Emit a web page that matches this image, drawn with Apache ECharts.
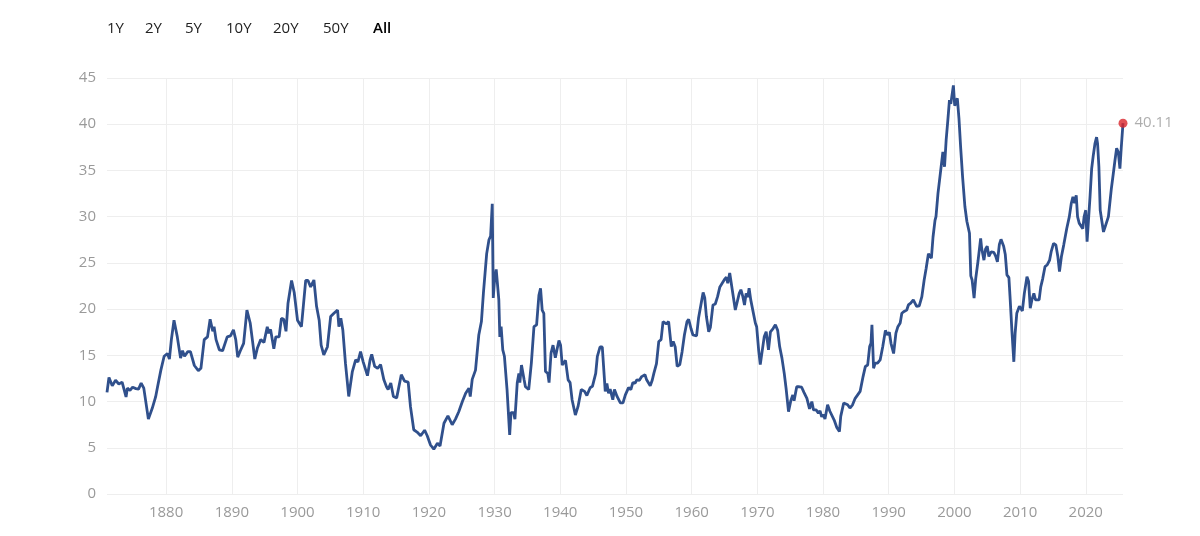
<!DOCTYPE html>
<html>
<head>
<meta charset="utf-8">
<title>CAPE</title>
<script src="https://cdn.jsdelivr.net/npm/echarts@6/dist/echarts.min.js"></script>
<style>
  html, body { margin: 0; padding: 0; background: #fff; }
  #main { width: 1200px; height: 536px; }
</style>
</head>
<body>
<div id="main"></div>
<script>
// values (decimal year, ratio)
var years = [
  1871.0,1871.3,1871.8,1872.3,1872.8,1873.3,1873.6,1873.9,1874.1,1874.5,1874.9,1875.4,1875.8,1876.2,1876.6,1877.3,1877.9,1878.4,1878.7,1879.2,
  1879.7,1880.2,1880.5,1880.8,1881.2,1881.7,1882.2,1882.5,1882.8,1883.3,1883.7,1884.3,1884.6,1884.9,1885.3,1885.8,1886.3,1886.7,1887.1,1887.3,
  1887.6,1888.1,1888.6,1888.9,1889.3,1889.8,1890.25,1890.6,1890.9,1891.3,1891.8,1892.3,1892.8,1893.2,1893.5,1893.9,1894.4,1894.9,1895.4,1895.6,
  1895.9,1896.4,1896.7,1897.2,1897.55,1897.9,1898.25,1898.55,1898.8,1899.1,1899.5,1900.0,1900.6,1901.25,1901.6,1902.0,1902.5,1902.9,1903.3,1903.6,
  1904.0,1904.55,1905.05,1905.55,1906.1,1906.3,1906.6,1906.9,1907.3,1907.8,1908.35,1908.85,1909.2,1909.6,1910.0,1910.65,1911.05,1911.3,1911.75,1912.2,
  1912.65,1913.15,1913.55,1913.8,1914.2,1914.6,1915.1,1915.8,1916.3,1916.85,1917.2,1917.7,1918.2,1918.75,1919.35,1919.75,1920.25,1920.75,1921.3,1921.7,
  1922.3,1922.9,1923.55,1924.05,1924.55,1925.1,1925.6,1926.1,1926.3,1926.6,1927.1,1927.6,1928.0,1928.3,1928.5,1928.8,1929.15,1929.4,1929.65,1929.8,
  1930.0,1930.25,1930.65,1930.8,1931.0,1931.25,1931.5,1931.9,1932.3,1932.5,1932.9,1933.1,1933.45,1933.7,1933.85,1934.1,1934.5,1934.7,1935.2,1935.6,
  1936.0,1936.4,1936.75,1937.0,1937.25,1937.5,1937.75,1938.1,1938.3,1938.6,1938.9,1939.25,1939.5,1939.8,1940.05,1940.3,1940.55,1940.8,1941.2,1941.5,
  1941.8,1942.3,1942.7,1943.2,1943.7,1944.05,1944.55,1944.9,1945.4,1945.65,1946.05,1946.4,1946.7,1946.85,1947.1,1947.35,1947.6,1948.0,1948.25,1948.65,
  1949.15,1949.55,1949.9,1950.4,1950.75,1951.05,1951.4,1951.65,1952.05,1952.4,1952.9,1953.15,1953.7,1954.0,1954.25,1954.65,1955.0,1955.35,1955.65,1955.85,
  1956.15,1956.5,1956.9,1957.2,1957.5,1957.8,1958.2,1958.55,1958.9,1959.3,1959.55,1959.9,1960.2,1960.5,1960.75,1961.05,1961.45,1961.75,1962.0,1962.25,
  1962.6,1962.85,1963.25,1963.6,1963.95,1964.3,1964.65,1965.0,1965.3,1965.5,1965.8,1966.0,1966.3,1966.65,1966.9,1967.25,1967.5,1967.8,1968.05,1968.3,
  1968.55,1968.75,1969.0,1969.3,1969.7,1969.9,1970.2,1970.45,1970.7,1971.05,1971.35,1971.7,1972.0,1972.4,1972.75,1973.1,1973.4,1973.75,1974.1,1974.4,
  1974.75,1975.1,1975.4,1975.6,1976.0,1976.4,1976.75,1977.1,1977.55,1977.95,1978.3,1978.55,1978.95,1979.3,1979.55,1979.8,1980.05,1980.3,1980.7,1981.05,
  1981.3,1981.7,1982.1,1982.5,1982.7,1983.15,1983.4,1983.75,1984.1,1984.5,1984.9,1985.25,1985.65,1986.1,1986.45,1986.8,1987.1,1987.3,1987.45,1987.7,
  1987.95,1988.3,1988.7,1989.1,1989.5,1989.8,1990.1,1990.35,1990.75,1991.1,1991.4,1991.75,1992.0,1992.35,1992.75,1993.0,1993.35,1993.75,1994.0,1994.25,
  1994.65,1995.05,1995.4,1995.7,1996.05,1996.3,1996.5,1996.75,1997.05,1997.2,1997.5,1997.7,1997.9,1998.25,1998.5,1998.75,1999.0,1999.25,1999.45,1999.65,
  1999.85,2000.05,2000.25,2000.45,2000.7,2000.95,2001.25,2001.6,2001.9,2002.3,2002.5,2002.7,2003.0,2003.25,2003.6,2004.0,2004.15,2004.5,2004.75,2005.0,
  2005.25,2005.6,2006.0,2006.3,2006.55,2006.85,2007.1,2007.5,2007.75,2008.0,2008.3,2008.5,2008.75,2009.05,2009.25,2009.5,2009.9,2010.1,2010.35,2010.65,
  2011.05,2011.3,2011.55,2011.8,2012.1,2012.35,2012.6,2012.9,2013.15,2013.45,2013.8,2014.15,2014.5,2014.75,2015.1,2015.45,2015.75,2016.0,2016.3,2016.65,
  2016.9,2017.1,2017.5,2017.8,2018.05,2018.3,2018.55,2018.75,2019.0,2019.25,2019.55,2019.75,2020.0,2020.2,2020.45,2020.65,2020.9,2021.15,2021.4,2021.65,
  2021.8,2022.0,2022.2,2022.4,2022.7,2022.95,2023.2,2023.45,2023.7,2023.9,2024.2,2024.45,2024.7,2024.95,2025.2,2025.4,2025.67
];
var cape = [
  11.0,12.6,11.7,12.3,11.9,12.1,11.9,10.5,11.45,11.2,11.55,11.4,11.35,12.0,11.45,8.1,9.3,10.5,11.6,13.4,
  14.9,15.2,14.6,16.7,18.8,17.0,14.7,15.5,14.9,15.4,15.4,13.9,13.7,13.35,13.6,16.7,17.0,18.9,17.6,18.1,
  16.7,15.6,15.5,15.3,17.0,17.1,17.75,16.7,14.8,15.5,16.3,19.9,18.5,16.3,14.6,15.8,16.7,16.4,18.1,17.4,
  17.8,15.7,17.0,17.0,19.0,18.9,17.6,20.6,20.6,23.1,21.8,18.8,18.1,23.1,23.1,22.4,23.15,20.3,18.8,16.1,
  15.05,15.9,19.2,19.55,19.9,18.1,19.0,17.75,14.15,10.55,13.25,14.5,14.3,15.4,14.3,12.8,14.5,15.1,13.8,13.6,
  14.0,12.35,11.6,11.3,12.0,10.55,10.4,12.9,12.2,12.1,9.45,6.95,6.7,6.3,6.9,6.3,5.3,4.85,5.5,5.2,
  7.65,8.45,7.5,8.1,8.9,10.0,10.9,11.45,10.55,12.4,13.4,17.2,18.65,21.7,21.8,26.0,27.5,27.9,31.4,21.2,
  23.15,24.3,21.0,17.0,18.1,15.6,14.9,11.3,6.4,8.8,8.8,8.1,12.0,13.05,12.05,13.95,12.35,11.6,11.3,14.15,
  18.1,18.3,21.5,22.25,19.9,19.55,13.25,13.05,12.05,15.25,16.1,14.75,15.6,16.6,16.1,13.95,13.8,14.45,12.35,12.05,
  10.2,8.55,9.45,11.3,11.1,10.65,11.5,11.65,13.05,14.9,15.9,15.9,12.7,11.1,11.95,10.9,11.35,10.2,11.3,10.55,
  9.85,9.85,10.7,11.5,11.3,12.05,12.0,12.35,12.3,12.7,12.9,12.35,11.7,12.3,13.05,14.1,16.5,16.7,18.65,18.8,
  18.4,18.65,15.95,16.5,15.9,13.8,14.0,15.4,17.2,18.65,18.9,17.9,17.2,17.3,17.1,19.0,20.6,21.8,21.2,19.2,
  17.55,18.0,20.45,20.55,21.35,22.4,22.8,23.2,23.45,22.8,23.9,23.7,21.55,19.9,19.8,21.7,22.1,21.35,20.45,21.7,
  21.3,22.25,21.0,21.0,18.5,18.1,15.6,14.0,14.15,17.0,17.55,15.6,17.55,17.9,18.3,17.7,15.95,14.7,13.05,11.3,
  8.9,10.1,10.7,10.1,11.6,11.6,11.55,11.0,10.35,9.2,10.0,9.1,9.1,8.75,9.0,8.35,8.6,8.1,9.65,8.95,
  8.75,8.0,7.2,6.75,8.4,9.85,9.9,9.65,9.3,9.65,10.35,10.7,11.1,12.7,13.8,13.95,15.95,16.3,18.3,13.6,
  14.15,14.15,14.5,15.95,17.7,17.2,17.5,16.3,15.2,17.4,18.1,18.5,19.55,19.75,19.9,20.45,20.65,21.0,21.2,20.3,
  20.35,21.35,23.15,24.4,26.0,25.85,25.5,27.8,29.6,30.0,32.5,32.5,34.9,37.0,35.4,38.3,40.4,42.6,42.2,42.0,
  44.2,42.0,42.4,42.8,40.6,37.55,34.3,31.1,29.5,28.2,23.6,23.15,21.2,23.3,25.2,27.65,26.6,25.3,26.5,26.8,
  25.7,26.2,26.15,25.7,25.1,27.0,27.55,26.8,25.9,23.7,23.4,21.0,17.75,14.3,17.4,19.55,20.3,20.45,19.8,21.7,
  23.5,23.0,20.1,21.0,21.7,21.0,21.2,21.0,22.4,23.3,24.6,24.8,25.3,26.25,27.1,26.95,25.7,24.05,25.7,26.95,
  27.1,28.7,30.0,31.45,32.15,31.45,32.3,30.0,29.3,29.3,28.7,30.0,30.7,27.3,30.0,32.15,35.2,36.65,37.9,38.6,
  37.9,35.4,30.7,30.5,28.35,28.9,28.7,30.0,30.2,33.05,34.7,36.1,37.4,37.0,35.2,37.4,40.11
];
var xTicks = [1880, 1890, 1900, 1910, 1920, 1930, 1940, 1950, 1960, 1970, 1980, 1990, 2000, 2010, 2020];
var ranges = ['1Y', '2Y', '5Y', '10Y', '20Y', '50Y', 'All'];
var rangeX = [107, 145, 185, 226, 273, 323, 373];

var lineData = [];
for (var i = 0; i < years.length; i++) {
  lineData.push([years[i], cape[i]]);
}
var last = lineData[lineData.length - 1];

var buttons = [];
for (var j = 0; j < ranges.length; j++) {
  buttons.push({
    type: 'text',
    left: rangeX[j],
    top: 21,
    style: {
      text: ranges[j],
      fill: ranges[j] == 'All' ? '#000' : '#222',
      font: (ranges[j] == 'All' ? '600 ' : '400 ') + '15px "Open Sans", sans-serif'
    }
  });
}

var chart = echarts.init(document.getElementById('main'));
var option = {
  animation: false,
  textStyle: { fontFamily: '"Open Sans", sans-serif' },
  graphic: buttons,
  grid: { left: 107, right: 77, top: 78, bottom: 42 },
  xAxis: {
    type: 'value',
    min: years[0],
    max: last[0],
    axisLine: { show: false },
    axisTick: { show: false, customValues: xTicks },
    axisLabel: {
      customValues: xTicks,
      formatter: function (v) { return String(v); },
      color: '#9a9a9a',
      fontSize: 15,
      margin: 11
    },
    splitLine: { show: true, lineStyle: { color: '#eeeeee', width: 1 } }
  },
  yAxis: {
    type: 'value',
    min: 0,
    max: 45,
    interval: 5,
    axisLine: { show: false },
    axisTick: { show: false },
    axisLabel: { color: '#9a9a9a', fontSize: 15, margin: 11 },
    splitLine: { lineStyle: { color: '#eeeeee', width: 1 } }
  },
  series: [
    {
      type: 'line',
      data: lineData,
      symbol: 'none',
      lineStyle: { color: '#30508c', width: 2.8 },
      z: 2
    },
    {
      type: 'scatter',
      data: [last],
      symbolSize: 9,
      itemStyle: { color: '#d9262c' },
      label: {
        show: true,
        position: 'right',
        distance: 7,
        formatter: function (p) { return p.value[1].toFixed(2); },
        color: '#9a9a9a',
        fontSize: 15
      },
      z: 3
    }
  ]
};
chart.setOption(option);
</script>
</body>
</html>
